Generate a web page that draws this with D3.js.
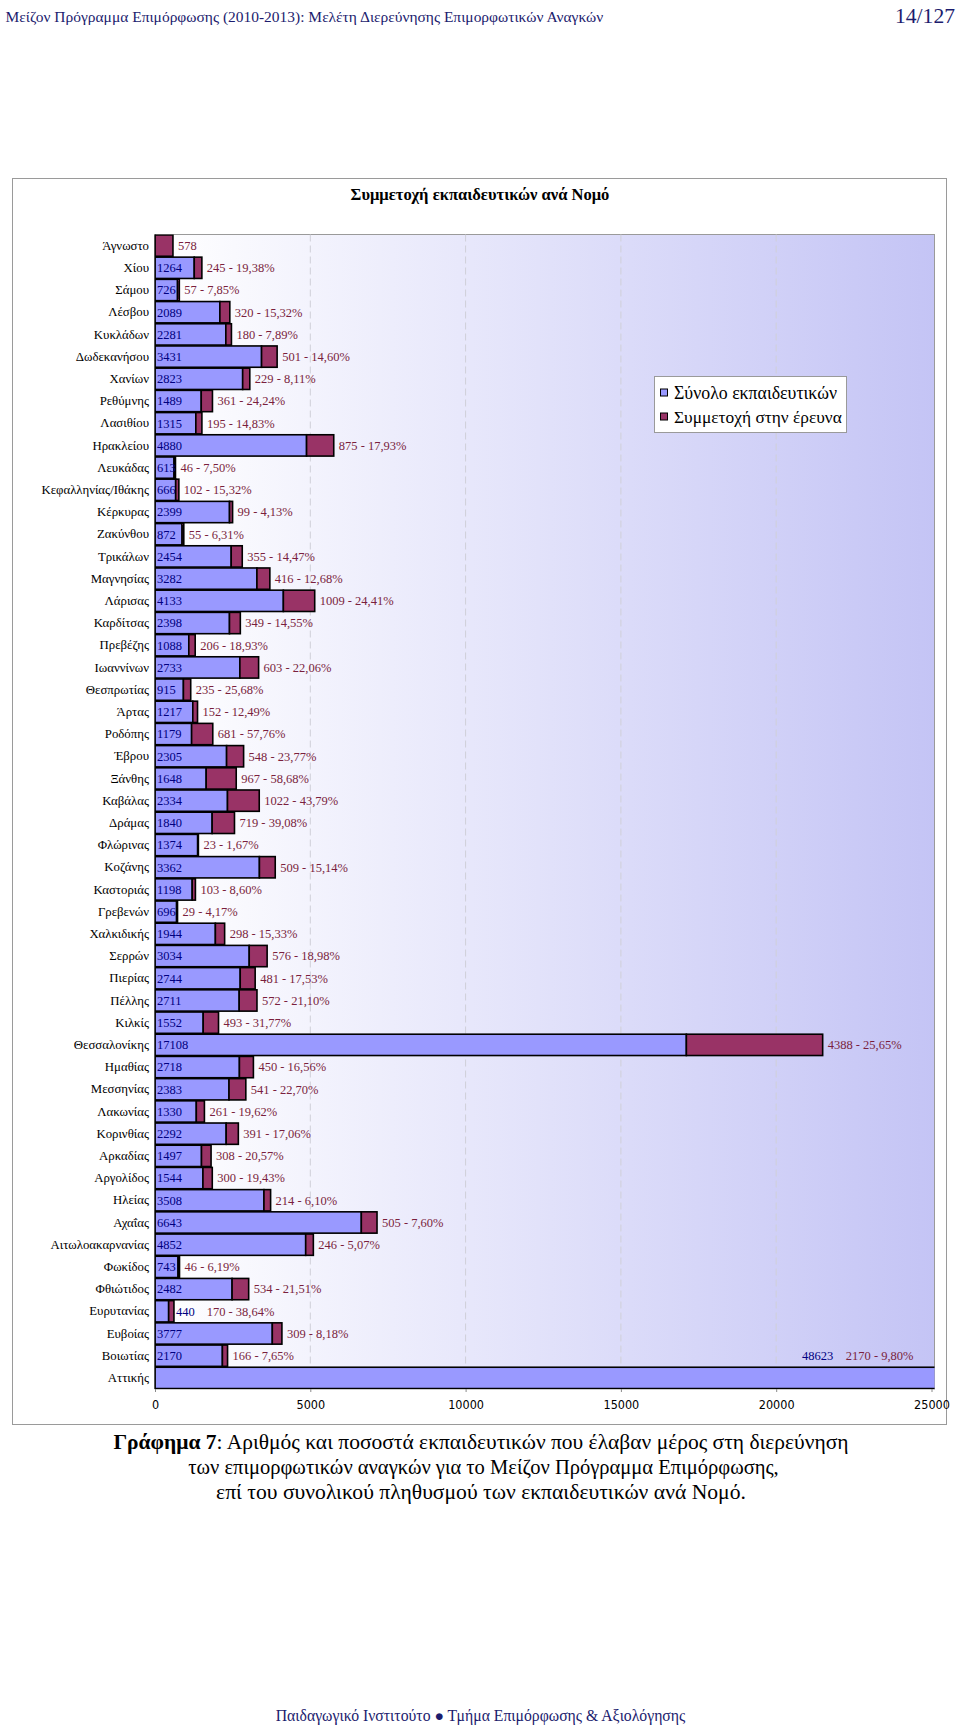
<!DOCTYPE html>
<html><head><meta charset="utf-8">
<script src="https://cdn.jsdelivr.net/npm/d3@7"></script>
<style>body{margin:0;background:#fff}svg{display:block}</style>
</head><body>
<script>
const categories = ["Άγνωστο","Χίου","Σάμου","Λέσβου","Κυκλάδων","Δωδεκανήσου","Χανίων","Ρεθύμνης","Λασιθίου","Ηρακλείου","Λευκάδας","Κεφαλληνίας/Ιθάκης","Κέρκυρας","Ζακύνθου","Τρικάλων","Μαγνησίας","Λάρισας","Καρδίτσας","Πρεβέζης","Ιωαννίνων","Θεσπρωτίας","Άρτας","Ροδόπης","Έβρου","Ξάνθης","Καβάλας","Δράμας","Φλώρινας","Κοζάνης","Καστοριάς","Γρεβενών","Χαλκιδικής","Σερρών","Πιερίας","Πέλλης","Κιλκίς","Θεσσαλονίκης","Ημαθίας","Μεσσηνίας","Λακωνίας","Κορινθίας","Αρκαδίας","Αργολίδος","Ηλείας","Αχαΐας","Αιτωλοακαρνανίας","Φωκίδος","Φθιώτιδος","Ευρυτανίας","Ευβοίας","Βοιωτίας","Αττικής"];
const totals = [0,1264,726,2089,2281,3431,2823,1489,1315,4880,613,666,2399,872,2454,3282,4133,2398,1088,2733,915,1217,1179,2305,1648,2334,1840,1374,3362,1198,696,1944,3034,2744,2711,1552,17108,2718,2383,1330,2292,1497,1544,3508,6643,4852,743,2482,440,3777,2170,48623];
const participants = [578,245,57,320,180,501,229,361,195,875,46,102,99,55,355,416,1009,349,206,603,235,152,681,548,967,1022,719,23,509,103,29,298,576,481,572,493,4388,450,541,261,391,308,300,214,505,246,46,534,170,309,166,2170];
const percents = ["","19,38%","7,85%","15,32%","7,89%","14,60%","8,11%","24,24%","14,83%","17,93%","7,50%","15,32%","4,13%","6,31%","14,47%","12,68%","24,41%","14,55%","18,93%","22,06%","25,68%","12,49%","57,76%","23,77%","58,68%","43,79%","39,08%","1,67%","15,14%","8,60%","4,17%","15,33%","18,98%","17,53%","21,10%","31,77%","25,65%","16,56%","22,70%","19,62%","17,06%","20,57%","19,43%","6,10%","7,60%","5,07%","6,19%","21,51%","38,64%","8,18%","7,65%","9,80%"];
const xTicks = [0,5000,10000,15000,20000,25000];
const seriesNames = ["Σύνολο εκπαιδευτικών","Συμμετοχή στην έρευνα"];
const chartTitle = "Συμμετοχή εκπαιδευτικών ανά Νομό";
const headerText = "Μείζον Πρόγραμμα Επιμόρφωσης (2010-2013): Μελέτη Διερεύνησης Επιμορφωτικών Αναγκών";
const pageText = "14/127";
const captionBold = "Γράφημα 7";
const captionLines = [": Αριθμός και ποσοστά εκπαιδευτικών που έλαβαν μέρος στη διερεύνηση","των επιμορφωτικών αναγκών για το Μείζον Πρόγραμμα Επιμόρφωσης,","επί του συνολικού πληθυσμού των εκπαιδευτικών ανά Νομό."];
const footerText = "Παιδαγωγικό Ινστιτούτο ● Τμήμα Επιμόρφωσης & Αξιολόγησης";

const W = 960, H = 1729;
const SERIF = "'Liberation Serif','Times New Roman',serif";
const SANS = "'Liberation Sans Narrow','DejaVu Sans Condensed','Liberation Sans',Arial,sans-serif";
const BLUE = "#9999ff", MAROON = "#993366", NAVY = "#000080", LBL_M = "#7a1f3d", HEAD = "#1c1c6e";

const svg = d3.select("body").append("svg").attr("width", W).attr("height", H);

function fit(sel, w){
  const l = sel.node().getComputedTextLength();
  const fs = parseFloat(sel.attr("font-size"));
  if (l > 0) sel.attr("font-size", (fs * w / l).toFixed(2));
  return sel;
}

// header
fit(svg.append("text").attr("x", 5.5).attr("y", 22).attr("font-family", SERIF).attr("font-size", 16)
  .attr("fill", HEAD).text(headerText), 598);
fit(svg.append("text").attr("x", 955).attr("y", 23).attr("text-anchor", "end").attr("font-family", SERIF)
  .attr("font-size", 20).attr("fill", HEAD).text(pageText), 60);

// chart frame
svg.append("rect").attr("x", 12.5).attr("y", 178.5).attr("width", 934).attr("height", 1246)
  .attr("fill", "#fff").attr("stroke", "#9a9a9a").attr("stroke-width", 1);

fit(svg.append("text").attr("x", 480).attr("y", 200).attr("text-anchor", "middle").attr("font-family", SERIF)
  .attr("font-size", 16).attr("font-weight", "bold").attr("fill", "#000").text(chartTitle), 259);

const x = d3.scaleLinear().domain([0, 25000]).range([155, 931.5]);
const y = d3.scaleBand().domain(categories).range([234.5, 1389]).paddingInner(0.04).paddingOuter(0.02);
const plotRight = 934.5;

const defs = svg.append("defs");
const grad = defs.append("linearGradient").attr("id", "bg").attr("x1", "0").attr("x2", "1").attr("y1", "0").attr("y2", "0");
grad.append("stop").attr("offset", "0").attr("stop-color", "#ffffff");
grad.append("stop").attr("offset", "1").attr("stop-color", "#c4c4f5");
defs.append("clipPath").attr("id", "clip").append("rect")
  .attr("x", x(0)).attr("y", 234.5).attr("width", plotRight - x(0)).attr("height", 1389 - 234.5);

svg.append("rect").attr("x", x(0)).attr("y", 234.5).attr("width", plotRight - x(0)).attr("height", 1389 - 234.5)
  .attr("fill", "url(#bg)").attr("stroke", "#9a9a9a").attr("stroke-width", 1);

// grid
svg.append("g").selectAll("line").data(xTicks.filter(d => d > 0 && d < 25000)).join("line")
  .attr("x1", d => x(d)).attr("x2", d => x(d)).attr("y1", 234.5).attr("y2", 1389)
  .attr("stroke", "#cfcfd8").attr("stroke-width", 1).attr("stroke-dasharray", "7,4");

// x axis labels
const xAxis = d3.axisBottom(x).tickValues(xTicks).tickSize(3).tickPadding(8).tickFormat(d3.format("d"));
const gx = svg.append("g").attr("transform", "translate(0,1389)").call(xAxis);
gx.select(".domain").remove();
gx.selectAll(".tick line").attr("stroke", "#8a8a8a");
gx.selectAll("text").attr("font-family", SANS).attr("font-size", 12.5).attr("fill", "#000");

// y axis labels
const yAxis = d3.axisLeft(y).tickSize(0).tickPadding(6);
const gy = svg.append("g").attr("transform", `translate(${x(0)},0)`).call(yAxis);
gy.select(".domain").remove();
gy.selectAll("text").attr("font-family", SERIF).attr("font-size", 12.8).attr("fill", "#000");

// bars
const rows = categories.map((c, i) => ({c, t: totals[i], p: participants[i], pct: percents[i], i}));
const bars = svg.append("g").attr("clip-path", "url(#clip)");
bars.selectAll("rect.tot").data(rows.filter(r => r.t > 0)).join("rect").attr("class", "tot")
  .attr("x", x(0)).attr("y", r => y(r.c)).attr("width", r => x(r.t) - x(0)).attr("height", y.bandwidth())
  .attr("fill", BLUE).attr("stroke", "#000").attr("stroke-width", 1.6);
bars.selectAll("rect.par").data(rows).join("rect").attr("class", "par")
  .attr("x", r => x(r.t)).attr("y", r => y(r.c)).attr("width", r => x(r.t + r.p) - x(r.t)).attr("height", y.bandwidth())
  .attr("fill", MAROON).attr("stroke", "#000").attr("stroke-width", 1.6);

// axis line
svg.append("line").attr("x1", x(0)).attr("x2", x(0)).attr("y1", 234.5).attr("y2", 1389).attr("stroke", "#000").attr("stroke-width", 1.2);

// labels
const lg = svg.append("g").attr("font-family", SERIF).attr("font-size", 12.5);
rows.forEach(r => {
  const cy = y(r.c) + y.bandwidth() / 2;
  const end = x(r.t + r.p);
  const mText = r.t > 0 ? `${r.p} - ${r.pct}` : `${r.p}`;
  if (r.t + r.p > 25000) {
    const ly = cy - y.step();
    const ex = x(25000) - 18;
    const m = lg.append("text").attr("x", ex).attr("y", ly).attr("dy", "0.35em").attr("text-anchor", "end").attr("fill", LBL_M).text(mText);
    const mw = m.node().getComputedTextLength();
    lg.append("text").attr("x", ex - mw - 12.5).attr("y", ly).attr("dy", "0.35em").attr("text-anchor", "end").attr("fill", NAVY).text(r.t);
    return;
  }
  let mx = end + 5;
  if (r.t > 0) {
    const b = lg.append("text").attr("y", cy).attr("dy", "0.35em").attr("fill", NAVY).text(r.t);
    const bw = b.node().getComputedTextLength();
    if (bw <= x(r.t) - x(0) + 4) {
      b.attr("x", x(0) + 2);
    } else {
      b.attr("x", end + 2);
      mx = end + 2 + bw + 12;
    }
  }
  lg.append("text").attr("x", mx).attr("y", cy).attr("dy", "0.35em").attr("fill", LBL_M).text(mText);
});

// legend
const leg = svg.append("g");
leg.append("rect").attr("x", 654.5).attr("y", 376.5).attr("width", 192).attr("height", 56)
  .attr("fill", "#fff").attr("stroke", "#9a9a9a");
[BLUE, MAROON].forEach((col, k) => {
  const ly = 393 + k * 24;
  leg.append("rect").attr("x", 660.5).attr("y", ly - 4).attr("width", 7).attr("height", 7)
    .attr("fill", col).attr("stroke", "#000").attr("stroke-width", 1);
  fit(leg.append("text").attr("x", 674).attr("y", ly).attr("dy", "0.35em").attr("font-family", SERIF)
    .attr("font-size", 17).attr("fill", "#000").text(seriesNames[k]), k === 0 ? 163 : 168);
});

// caption
const cap1 = svg.append("text").attr("x", 481).attr("y", 1449).attr("text-anchor", "middle").attr("font-family", SERIF).attr("font-size", 19).attr("fill", "#000");
cap1.append("tspan").attr("font-weight", "bold").text(captionBold);
cap1.append("tspan").text(captionLines[0]);
fit(cap1, 735);
fit(svg.append("text").attr("x", 483.5).attr("y", 1474).attr("text-anchor", "middle").attr("font-family", SERIF).attr("font-size", 19).attr("fill", "#000").text(captionLines[1]), 591);
fit(svg.append("text").attr("x", 481).attr("y", 1499).attr("text-anchor", "middle").attr("font-family", SERIF).attr("font-size", 19).attr("fill", "#000").text(captionLines[2]), 530);

// footer
fit(svg.append("text").attr("x", 480.5).attr("y", 1721).attr("text-anchor", "middle").attr("font-family", SERIF).attr("font-size", 15).attr("fill", HEAD).text(footerText), 410);
</script>
</body></html>
